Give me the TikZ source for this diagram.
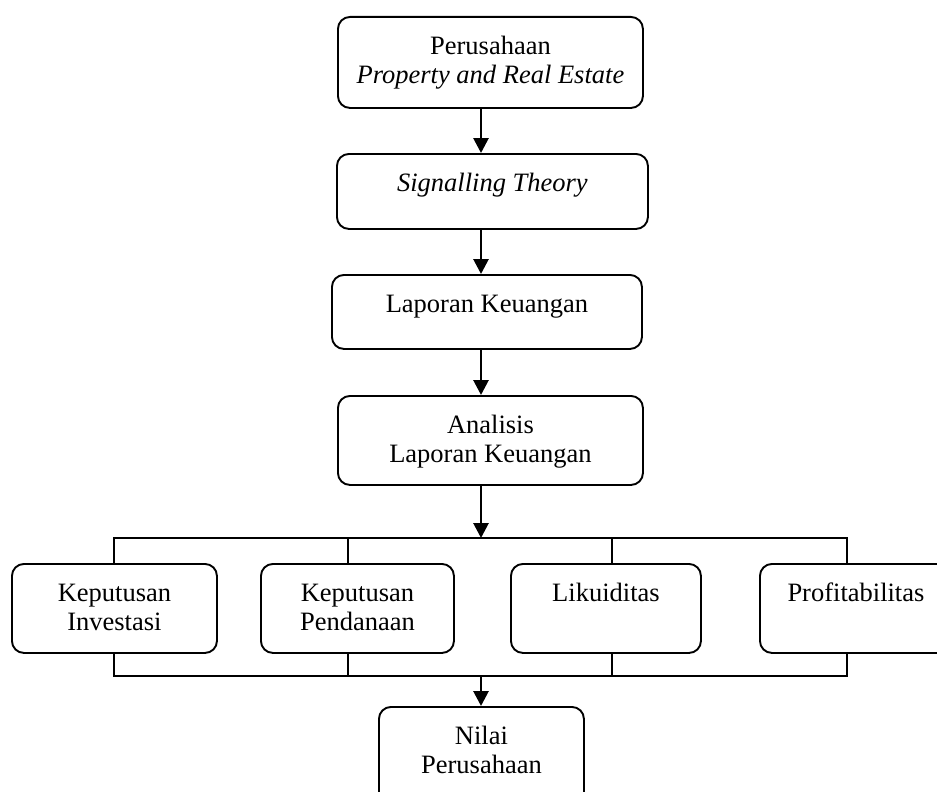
\documentclass[tikz,border=0pt]{standalone}
\usepackage{fontspec}
\setmainfont{Liberation Serif}
\usetikzlibrary{arrows.meta}
\newcommand\boxtext[3]{\parbox[c][#2pt][t]{#1pt}{\fontsize{26.5}{29}\selectfont\centering\rule{0pt}{38pt}#3\par}}
\tikzset{
  fbox/.style={draw, line width=1.9pt, rounded corners=12pt, inner sep=0pt, anchor=north west},
  arr/.style={line width=2.8pt, -{Triangle[length=15pt,width=15pt]}},
  bar/.style={line width=1.7pt, line cap=rect}
}
\begin{document}
\begin{tikzpicture}[x=1pt,y=-1pt]
\clip (0,0) rectangle (937,792);
\fill[white] (0,0) rectangle (937,792);
\node[fbox] (b1) at (337,16) {\boxtext{305}{91}{Perusahaan\\\textit{Property and Real Estate}}};
\node[fbox] (b2) at (336,153) {\boxtext{311}{75}{\textit{Signalling Theory}}};
\node[fbox] (b3) at (331,274) {\boxtext{310}{74}{Laporan Keuangan}};
\node[fbox] (b4) at (337,395) {\boxtext{305}{89}{Analisis\\Laporan Keuangan}};
\node[fbox] (kA) at (11,563) {\boxtext{205}{89}{Keputusan\\Investasi}};
\node[fbox] (kB) at (260,563) {\boxtext{193}{89}{Keputusan\\Pendanaan}};
\node[fbox] (kC) at (510,563) {\boxtext{190}{89}{Likuiditas}};
\node[fbox] (kD) at (759,563) {\boxtext{200}{89}{\hspace*{-8pt}Profitabilitas}};
\node[fbox] (nv) at (378,706) {\boxtext{205}{110}{Nilai\\Perusahaan}};
\coordinate (ax) at (481,0);
\coordinate (tA) at (114,538);
\coordinate (tB) at (348,538);
\coordinate (tC) at (612,538);
\coordinate (tD) at (847,538);
\coordinate (uA) at (114,676);
\coordinate (uB) at (348,676);
\coordinate (uC) at (612,676);
\coordinate (uD) at (847,676);
\draw[arr] (b1.south -| ax) -- (b2.north -| ax);
\draw[arr] (b2.south -| ax) -- (b3.north -| ax);
\draw[arr] (b3.south -| ax) -- (b4.north -| ax);
\draw[arr] (b4.south -| ax) -- (tA -| ax);
\draw[bar] (tA |- kA.north) -- (tA) -- (tD) -- (tD |- kD.north);
\draw[bar] (tB) -- (tB |- kB.north);
\draw[bar] (tC) -- (tC |- kC.north);
\draw[bar] (uA |- kA.south) -- (uA) -- (uD) -- (uD |- kD.south);
\draw[bar] (uB) -- (uB |- kB.south);
\draw[bar] (uC) -- (uC |- kC.south);
\draw[arr] (uA -| ax) -- (nv.north -| ax);
\end{tikzpicture}
\end{document}
